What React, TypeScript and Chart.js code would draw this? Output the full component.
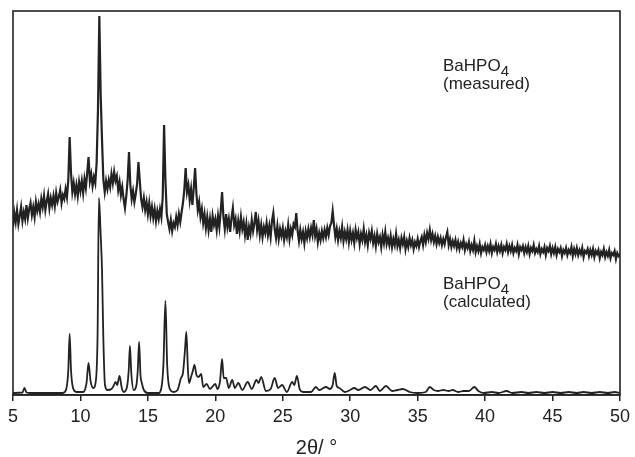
import React, { useEffect, useRef } from "react";
import { Chart, registerables } from "chart.js";

Chart.register(...registerables);

// X axis (2θ in degrees)
const xMin = 5;
const xMax = 50;
const xTickValues = [5, 10, 15, 20, 25, 30, 35, 40, 45, 50];
const xTitle = "2θ/ °";

// Measured pattern: sampled from 5° with a 0.1° step (arbitrary intensity units)
const measuredStart = 5;
const measuredStep = 0.1;
const measuredIntensity = [
  // 5.x
  168, 182, 173, 185, 171, 179, 188, 174, 183, 176,
  // 6.x
  190, 177, 186, 192, 180, 188, 178, 193, 184, 191,
  // 7.x
  183, 196, 188, 199, 185, 194, 201, 187, 197, 190,
  // 8.x
  199, 189, 202, 193, 198, 205, 192, 200, 196, 206,
  // 9.x
  198, 215, 258, 222, 203, 212, 201, 210, 199, 213,
  // 10.x
  204, 214, 202, 216, 207, 222, 238, 214, 221, 209,
  // 11.x
  218, 212, 232, 285, 379, 300, 255, 215, 203, 214,
  // 12.x
  206, 215, 208, 221, 212, 223, 214, 219, 205, 213,
  // 13.x
  200, 208, 196, 187, 199, 215, 243, 210, 196, 204,
  // 14.x
  193, 201, 211, 233, 214, 196, 188, 197, 185, 193,
  // 15.x
  181, 192, 179, 188, 177, 186, 174, 184, 176, 186,
  // 16.x
  178, 198, 270, 215, 181, 173, 166, 175, 164, 172,
  // 17.x
  168, 178, 170, 181, 173, 183, 192, 205, 227, 203,
  // 18.x
  210, 195, 206, 190, 207, 227, 201, 185, 193, 178,
  // 19.x
  186, 172, 181, 167, 178, 165, 176, 163, 179, 170,
  // 20.x
  176, 165, 179, 168, 184, 203, 178, 166, 181, 168,
  // 21.x
  176, 163, 177, 187, 170, 176, 161, 174, 164, 178,
  // 22.x
  166, 173, 160, 171, 155, 168, 161, 175, 164, 172,
  // 23.x
  183, 165, 174, 160, 170, 158, 168, 162, 172, 160,
  // 24.x
  169, 158, 174, 182, 166, 157, 169, 156, 166, 159,
  // 25.x
  167, 155, 164, 158, 170, 156, 166, 160, 171, 168,
  // 26.x
  182, 164, 154, 165, 156, 163, 152, 164, 157, 166,
  // 27.x
  158, 167, 160, 175, 159, 166, 153, 162, 155, 164,
  // 28.x
  157, 165, 158, 167, 160, 169, 172, 184, 170, 158,
  // 29.x
  166, 155, 164, 157, 168, 154, 163, 156, 165, 153,
  // 30.x
  164, 155, 162, 152, 165, 157, 163, 151, 161, 155,
  // 31.x
  166, 153, 160, 150, 162, 156, 164, 152, 159, 149,
  // 32.x
  161, 153, 158, 148, 160, 152, 163, 151, 157, 150,
  // 33.x
  159, 148, 156, 150, 161, 149, 155, 147, 157, 151,
  // 34.x
  158, 146, 154, 148, 157, 150, 155, 146, 153, 149,
  // 35.x
  156, 148, 154, 158, 150, 160, 153, 162, 156, 165,
  // 36.x
  155, 161, 153, 159, 151, 158, 152, 157, 150, 156,
  // 37.x
  151, 158, 163, 150, 156, 148, 154, 149, 155, 147,
  // 38.x
  153, 146, 152, 148, 155, 145, 151, 147, 153, 144,
  // 39.x
  150, 145, 154, 143, 149, 144, 151, 142, 148, 145,
  // 40.x
  150, 143, 149, 144, 151, 142, 148, 145, 151, 143,
  // 41.x
  149, 144, 150, 142, 148, 145, 151, 143, 149, 144,
  // 42.x
  150, 142, 147, 144, 150, 141, 148, 145, 149, 142,
  // 43.x
  148, 143, 149, 141, 147, 144, 150, 142, 146, 143,
  // 44.x
  149, 141, 146, 143, 148, 140, 147, 144, 149, 141,
  // 45.x
  147, 142, 148, 140, 146, 143, 147, 139, 145, 142,
  // 46.x
  147, 140, 145, 142, 148, 139, 146, 141, 147, 140,
  // 47.x
  145, 141, 147, 138, 144, 142, 146, 139, 145, 140,
  // 48.x
  146, 138, 144, 141, 145, 137, 143, 140, 146, 138,
  // 49.x
  143, 139, 145, 137, 142, 140, 144, 136, 142, 139,
  // 50.0
  141,
];

// Calculated pattern: 2θ positions and intensities
const calculatedTwoTheta = [
  5.0, 5.7, 5.85, 6.0, 6.3,
  8.7, 8.95, 9.1, 9.2, 9.3, 9.45, 9.7,
  10.2, 10.45, 10.6, 10.75, 10.95,
  11.15, 11.27, 11.37, 11.5, 11.6, 11.7, 11.82, 12.0, 12.3,
  12.45, 12.6, 12.72, 12.9, 13.05, 13.2,
  13.45, 13.58, 13.67, 13.77, 13.95,
  14.15, 14.25, 14.35, 14.45, 14.55, 14.7, 15.0, 15.8,
  16.0, 16.15, 16.3, 16.43, 16.6, 16.9, 17.2, 17.45, 17.6, 17.75, 17.85, 17.97, 18.05,
  18.2, 18.35, 18.45, 18.6, 18.75, 18.95, 19.1, 19.35, 19.6, 20.0, 20.15,
  20.35, 20.5, 20.62, 20.8, 21.0, 21.25, 21.45, 21.7, 22.0, 22.4, 22.7, 23.05, 23.2, 23.4,
  23.75, 24.1, 24.4, 24.65, 24.95, 25.3, 25.7, 25.85, 26.05, 26.25, 26.5,
  27.1, 27.45, 27.7, 27.9, 28.2, 28.5, 28.7, 28.85, 29.0, 29.2, 29.6,
  30.0, 30.3, 30.6, 31.1, 31.5, 31.9, 32.2, 32.65, 33.1, 33.5, 33.9, 34.4,
  35.0, 35.6, 35.9, 36.2, 36.5, 36.9, 37.3, 37.6, 38.0, 38.4, 38.8, 39.2, 39.5, 39.9,
  40.5, 41.0, 41.6, 42.0, 42.7, 43.2, 43.8, 44.4, 45.0, 45.6, 46.2, 46.8, 47.3, 47.9,
  48.5, 49.1, 49.6, 50.0,
];
const calculatedIntensity = [
  2, 2.5, 7, 2.5, 2,
  2, 6, 25, 61, 25, 7, 3,
  3, 12, 32, 14, 7,
  15, 60, 197, 160, 125, 55, 10, 5, 6,
  9, 13, 10, 19, 8, 3,
  8, 25, 49, 22, 5,
  10, 25, 53, 20, 12, 5, 2, 2,
  7, 30, 94, 30, 7, 3, 5, 17, 22, 45, 63, 25, 12,
  18, 25, 30, 20, 18, 21, 8, 11, 6, 11, 6,
  14, 36, 17, 17, 7, 15, 7, 12, 5, 13, 6, 15, 12, 18,
  4, 6, 17, 7, 10, 3, 13, 10, 19, 6, 3,
  3, 8, 5, 6, 8, 6, 10, 22, 9, 7, 3,
  5, 7, 5, 8, 5, 9, 4, 9, 4, 5, 6, 3,
  2, 3, 8, 5, 4, 5, 4, 5, 3, 4, 4, 8, 4, 2,
  3, 2, 4, 2, 3, 2, 3, 2, 3, 2, 3, 2, 3, 2,
  3, 2, 3, 2,
];

const yMin = 0;
const yMax = 384;

const seriesLabels = [
  { formula: "BaHPO", subscript: "4", note: "(measured)" },
  { formula: "BaHPO", subscript: "4", note: "(calculated)" },
];

const INK = "#222222";
const FONT = "Arial, 'Liberation Sans', Helvetica, sans-serif";

export default function App() {
  const canvasRef = useRef<HTMLCanvasElement | null>(null);

  useEffect(() => {
    const canvas = canvasRef.current;
    if (!canvas) return;

    const measuredPoints = measuredIntensity.map((y, i) => ({
      x: measuredStart + i * measuredStep,
      y,
    }));
    const calculatedPoints = calculatedTwoTheta.map((x, i) => ({
      x,
      y: calculatedIntensity[i],
    }));

    const framePlugin = {
      id: "frameAndLabels",
      afterDraw(chart: any) {
        const { ctx, chartArea } = chart;
        const { left, top, right, bottom } = chartArea;
        ctx.save();
        ctx.strokeStyle = INK;
        ctx.lineWidth = 1.6;
        ctx.strokeRect(left, top, right - left, bottom - top);

        ctx.fillStyle = INK;
        ctx.textBaseline = "alphabetic";
        ctx.textAlign = "left";
        const anchors = [
          { x: left + 430, y: top + 60 },
          { x: left + 430, y: top + 278 },
        ];
        seriesLabels.forEach((lab, i) => {
          const a = anchors[i];
          ctx.font = `17px ${FONT}`;
          ctx.fillText(lab.formula, a.x, a.y);
          const w = ctx.measureText(lab.formula).width;
          ctx.font = `15px ${FONT}`;
          ctx.fillText(lab.subscript, a.x + w, a.y + 5);
          ctx.font = `17px ${FONT}`;
          ctx.fillText(lab.note, a.x, a.y + 18);
        });
        ctx.restore();
      },
    };

    const chart = new Chart(canvas, {
      type: "line",
      data: {
        datasets: [
          {
            label: "measured",
            data: measuredPoints,
            borderColor: INK,
            borderWidth: 2.2,
            pointRadius: 0,
            tension: 0,
            fill: false,
          },
          {
            label: "calculated",
            data: calculatedPoints,
            borderColor: INK,
            borderWidth: 1.8,
            pointRadius: 0,
            cubicInterpolationMode: "monotone",
            fill: false,
          },
        ],
      },
      options: {
        animation: false,
        responsive: true,
        maintainAspectRatio: false,
        layout: { padding: { left: 13, right: 11, top: 11, bottom: 0 } },
        plugins: {
          legend: { display: false },
          tooltip: { enabled: false },
        },
        scales: {
          x: {
            type: "linear",
            min: xMin,
            max: xMax,
            afterBuildTicks: (scale: any) => {
              scale.ticks = xTickValues.map((v) => ({ value: v }));
            },
            afterFit: (scale: any) => {
              scale.height = 62;
            },
            ticks: {
              color: INK,
              font: { family: FONT, size: 18 },
              padding: 5,
              maxRotation: 0,
              autoSkip: false,
            },
            grid: {
              display: true,
              drawOnChartArea: false,
              drawTicks: true,
              tickLength: 6,
              color: INK,
              lineWidth: 1.5,
            },
            border: { display: true, color: INK, width: 1.6 },
            title: {
              display: true,
              text: xTitle,
              color: INK,
              font: { family: FONT, size: 20 },
              padding: { top: 0, bottom: -3 },
            },
          },
          y: {
            type: "linear",
            display: false,
            min: yMin,
            max: yMax,
          },
        },
      },
      plugins: [framePlugin],
    });

    return () => {
      chart.destroy();
    };
  }, []);

  return (
    <div
      style={{
        position: "fixed",
        left: 0,
        top: 0,
        width: 635,
        height: 457,
        background: "#ffffff",
      }}
    >
      <canvas ref={canvasRef} />
    </div>
  );
}
